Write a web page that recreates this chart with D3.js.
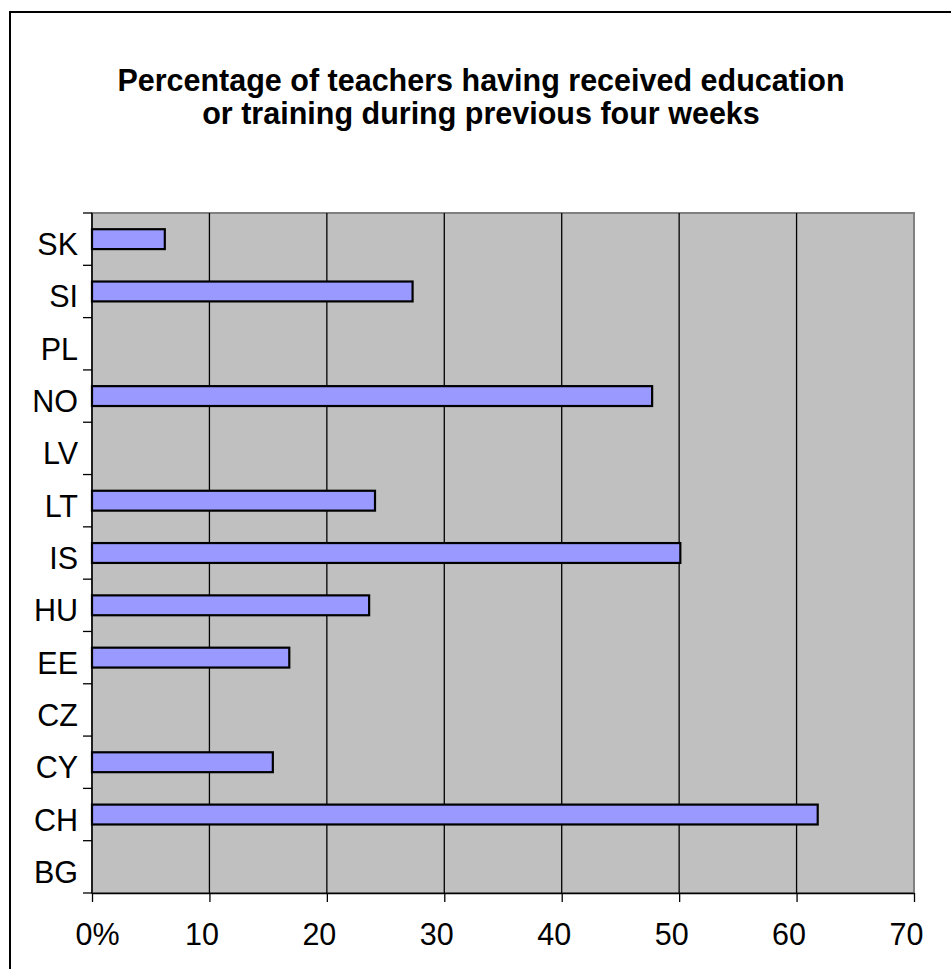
<!DOCTYPE html>
<html>
<head>
<meta charset="utf-8">
<script src="https://cdn.jsdelivr.net/npm/d3@7"></script>
<style>
  body { margin: 0; background: #fff; }
  text { font-family: Arial, "Liberation Sans", sans-serif; }
</style>
</head>
<body>
<svg width="951" height="969"></svg>
<script>
// countries, top to bottom as drawn
const countries = ["SK", "SI", "PL", "NO", "LV", "LT", "IS", "HU", "EE", "CZ", "CY", "CH", "BG"];
// percent of teachers (null = no data)
const percents = [6.2, 27.3, null, 47.7, null, 24.1, 50.1, 23.6, 16.8, null, 15.4, 61.8, null];
const xTicks = [0, 10, 20, 30, 40, 50, 60, 70];
const titleLines = [
  "Percentage of teachers having received education",
  "or training during previous four weeks"
];

const rows = countries.map((c, i) => ({ name: c, value: percents[i] }));

const svg = d3.select("svg");
const plot = { left: 92, top: 213, right: 914, bottom: 893 };

// outer chart border (runs off the page on the right and bottom)
svg.append("rect")
  .attr("x", 10).attr("y", 12)
  .attr("width", 980).attr("height", 990)
  .attr("fill", "none")
  .attr("stroke", "black")
  .attr("stroke-width", 2);

// title
svg.append("g")
  .selectAll("text")
  .data(titleLines)
  .enter()
  .append("text")
  .attr("x", 481)
  .attr("y", (d, i) => 91 + i * 33)
  .attr("text-anchor", "middle")
  .attr("font-weight", "bold")
  .attr("font-size", "30.5px")
  .text((d) => d);

const x = d3.scaleLinear().domain([0, 70]).range([plot.left, plot.right]);
const y = d3.scaleBand().domain(countries).range([plot.top, plot.bottom]).padding(0);

// plot background
svg.append("rect")
  .attr("x", plot.left).attr("y", plot.top)
  .attr("width", plot.right - plot.left)
  .attr("height", plot.bottom - plot.top)
  .attr("fill", "#c0c0c0")
  .attr("stroke", "#808080")
  .attr("stroke-width", 2);

// vertical gridlines
svg.append("g")
  .selectAll("line")
  .data(xTicks.filter((d) => d > 0 && d < 70))
  .enter()
  .append("line")
  .attr("x1", (d) => x(d)).attr("x2", (d) => x(d))
  .attr("y1", plot.top).attr("y2", plot.bottom)
  .attr("stroke", "black")
  .attr("stroke-width", 1.3);

// bars
const barH = y.bandwidth() * 0.38;
svg.append("g")
  .selectAll("rect")
  .data(rows.filter((d) => d.value != null))
  .enter()
  .append("rect")
  .attr("x", x(0))
  .attr("y", (d) => y(d.name) + (y.bandwidth() - barH) / 2)
  .attr("width", (d) => x(d.value) - x(0))
  .attr("height", barH)
  .attr("fill", "#9999ff")
  .attr("stroke", "black")
  .attr("stroke-width", 2.2);

// x axis
const xAxis = svg.append("g")
  .attr("transform", `translate(0,${plot.bottom})`)
  .call(d3.axisBottom(x).tickValues(xTicks).tickSize(9).tickSizeOuter(0)
    .tickFormat((d) => (d === 0 ? "0%" : d)));
xAxis.select(".domain").attr("stroke", "black").attr("stroke-width", 1.5);
xAxis.selectAll(".tick line").attr("stroke", "black").attr("stroke-width", 1.3);
xAxis.selectAll(".tick text")
  .attr("y", 52).attr("dy", 0)
  .attr("dx", (d) => (d === 0 ? 5 : -8))
  .attr("font-size", "30.5px")
  .attr("font-family", "Arial, 'Liberation Sans', sans-serif")
  .attr("fill", "black");

// y axis line and ticks at band edges
const yEdges = countries.map((c) => y(c)).concat([plot.bottom]);
svg.append("line")
  .attr("x1", plot.left).attr("x2", plot.left)
  .attr("y1", plot.top).attr("y2", plot.bottom)
  .attr("stroke", "black").attr("stroke-width", 1.5);
svg.append("g")
  .selectAll("line")
  .data(yEdges)
  .enter()
  .append("line")
  .attr("x1", plot.left - 9).attr("x2", plot.left)
  .attr("y1", (d) => d).attr("y2", (d) => d)
  .attr("stroke", "black").attr("stroke-width", 1.3);

// y labels
svg.append("g")
  .selectAll("text")
  .data(countries)
  .enter()
  .append("text")
  .attr("x", plot.left - 14)
  .attr("y", (d) => y(d) + y.bandwidth() / 2 + 16)
  .attr("text-anchor", "end")
  .attr("font-size", "30.5px")
  .text((d) => d);
</script>
</body>
</html>
